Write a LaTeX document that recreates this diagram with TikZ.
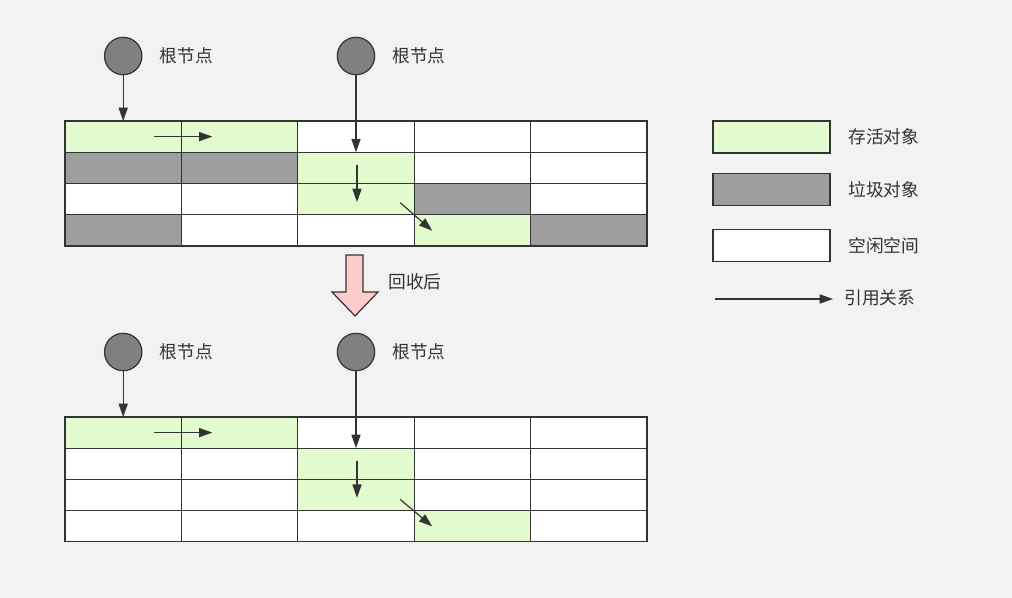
\documentclass[tikz,border=0pt]{standalone}
\usepackage{fontspec}
\newfontfamily\cjk{Noto Sans CJK SC}
\usetikzlibrary{arrows.meta, positioning, calc}
\definecolor{bggray}{HTML}{F2F2F2}
\definecolor{livegreen}{HTML}{E2FCCF}
\definecolor{garbage}{HTML}{9E9E9E}
\definecolor{rootgray}{HTML}{808080}
\definecolor{ink}{HTML}{333333}
\definecolor{pinkish}{HTML}{FFCCCC}
\tikzset{%
	cell/.style={draw=ink, line width=0.85pt, rectangle, minimum width=2.91cm,%
		minimum height=0.78cm, inner sep=0mm, outer sep=0mm},
	live/.style={cell, fill=livegreen},
	dead/.style={cell, fill=garbage},
	free/.style={cell, fill=white},
	rootnode/.style={draw=ink, line width=0.85pt, circle, minimum size=0.935cm, inner sep=0mm, fill=rootgray},
	lbl/.style={font=\cjk\fontsize{12.6pt}{15pt}\selectfont, text=ink, inner sep=0pt},
	ref/.style={draw=ink, line width=0.85pt, -{Triangle[length=9.5pt, width=6.5pt]}},
	legend/.style={cell, minimum width=2.925cm, minimum height=0.8cm}
}

\begin{document}
\begin{tikzpicture}[x=0.025cm, y=-0.025cm, node distance=0.42cm]
	\fill [bggray] (0,0) rectangle (1012,598);

	%before
	\foreach \r/\list in {0/{live,live,free,free,free}, 1/{dead,dead,live,free,free},%
		2/{free,free,live,dead,free}, 3/{dead,free,free,live,dead}}
		\foreach \s [count=\c from 0] in \list
			\node [\s] (t\r\c) at ({123.2+116.4*\c},{136.6+31.25*\r}) {};
	\node [rootnode] (r1) at (t00 |- 0,56) {};
	\node [rootnode] (r2) at (t02 |- 0,56) {};
	\node [lbl, right=of r1] (r1l) {根节点};
	\node [lbl, right=of r2] (r2l) {根节点};

	\draw [ref] (r1) to (t00.north);
	\draw [ref] (r2) to (t12.north);
	\draw [ref, shorten <=0.78cm, shorten >=0.68cm] (t00.center) to (t01.center);
	\draw [ref] ($(t12.center)+(1,-3)$) to ($(t22.center)+(1,3)$);
	\draw [ref] ($(t22.south east)+(-14,-12)$) to ($(t22.south east)+(18,16)$);

	%collect
	\draw [draw=ink, line width=0.85pt, fill=pinkish, line join=miter]
		(346,255) -- (363,255) -- (363,292) -- (378,292) -- (355,316)
		-- (332,292) -- (346,292) -- cycle;
	\node [lbl, anchor=west] (after) at (388,282) {回收后};

	%after
	\foreach \r/\list in {0/{live,live,free,free,free}, 1/{free,free,live,free,free},%
		2/{free,free,live,free,free}, 3/{free,free,free,live,free}}
		\foreach \s [count=\c from 0] in \list
			\node [\s] (b\r\c) at ({123.2+116.4*\c},{432.6+31.1*\r}) {};
	\node [rootnode] (b1) at (b00 |- 0,352) {};
	\node [rootnode] (b2) at (b02 |- 0,352) {};
	\node [lbl, right=of b1] (b1l) {根节点};
	\node [lbl, right=of b2] (b2l) {根节点};

	\draw [ref] (b1) to (b00.north);
	\draw [ref] (b2) to (b12.north);
	\draw [ref, shorten <=0.78cm, shorten >=0.68cm] (b00.center) to (b01.center);
	\draw [ref] ($(b12.center)+(1,-3)$) to ($(b22.center)+(1,3)$);
	\draw [ref] ($(b22.south east)+(-14,-11)$) to ($(b22.south east)+(18,16)$);

	%legend
	\node [legend, fill=livegreen] (k1) at (771.5,137) {};
	\node [legend, fill=garbage] (k2) at (771.5,189.7) {};
	\node [legend, fill=white] (k3) at (771.5,245.4) {};
	\node [lbl, anchor=west] (k1l) at (848,137) {存活对象};
	\node [lbl, anchor=west] (k2l) at (848,190) {垃圾对象};
	\node [lbl, anchor=west] (k3l) at (848,246) {空闲空间};
	\coordinate (ks) at (715,299);
	\coordinate (ke) at (833,299);
	\draw [ref] (ks) to (ke);
	\node [lbl, anchor=west] (k4l) at (844,298) {引用关系};
\end{tikzpicture}
\end{document}
